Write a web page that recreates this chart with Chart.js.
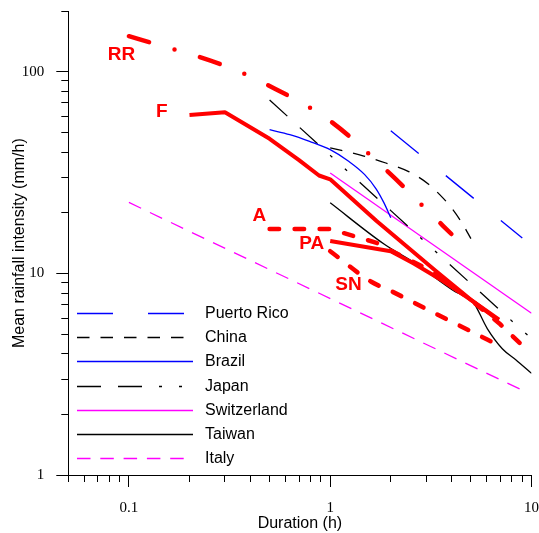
<!DOCTYPE html>
<html>
<head>
<meta charset="utf-8">
<script src="https://cdn.jsdelivr.net/npm/chart.js@4.4.1/dist/chart.umd.min.js"></script>
<style>
html,body{margin:0;padding:0;background:#fff;}
#wrap{width:539px;height:533px;}
</style>
</head>
<body>
<div id="wrap"><canvas id="c" width="539" height="533"></canvas></div>
<script>
// ---------- Axis ticks ----------
const xMajorTicks = [0.1, 1, 10];
const xMajorLabels = ['0.1', '1', '10'];
const xMinorTicks = [0.05, 0.06, 0.07, 0.08, 0.09, 0.2, 0.3, 0.4, 0.5, 0.6, 0.7, 0.8, 0.9, 2, 3, 4, 5, 6, 7, 8, 9];
const yMajorTicks = [1, 10, 100];
const yMajorLabels = ['1', '10', '100'];
const yMinorTicks = [2, 3, 4, 5, 6, 7, 8, 9, 20, 30, 40, 50, 60, 70, 80, 90, 200];

// ---------- Series (duration h, intensity mm/h) ----------
const rrDuration = [0.1, 0.3, 0.5, 1, 2, 3, 4];
const rrIntensity = [150, 107, 85, 57, 31, 20.8, 15.7];

const fDuration = [0.2, 0.3, 0.5, 0.7, 0.88, 1, 1.7, 3.35, 5, 6.9];
const fIntensity = [61, 63, 46.5, 36.5, 30.6, 29.3, 18.2, 10.3, 7.4, 5.9];

const aDuration = [0.5, 1, 1.7, 2, 3, 4, 5, 7, 9];
const aIntensity = [16.6, 16.6, 14.2, 13.0, 10.6, 8.7, 7.4, 5.6, 4.4];

const paDuration = [1, 2, 2.6, 3.5, 5, 6.8];
const paIntensity = [14.5, 12.9, 11.2, 9.4, 7.4, 5.9];

const snDuration = [1, 1.6, 2, 3.16, 4.5, 7.05];
const snIntensity = [12.9, 9.1, 8.2, 6.5, 5.45, 4.35];

const prDuration = [2, 9];
const prIntensity = [51, 15];

const chinaDuration = [1, 1.47, 1.89, 2.47, 3.07, 3.5, 4, 4.5, 5];
const chinaIntensity = [42, 38.2, 35.3, 31.9, 27.8, 24.6, 21.2, 17.9, 14.9];

const brazilDuration = [0.5, 0.63, 0.79, 1, 1.24, 1.48, 1.69, 1.85, 2];
const brazilIntensity = [51.6, 48.8, 45.2, 41.1, 35.9, 31.0, 26.3, 22.4, 18.9];

const japanDuration = [0.5, 1, 2, 5, 10];
const japanIntensity = [72.5, 38.5, 20.5, 8.9, 4.75];

const swissDuration = [1, 10];
const swissIntensity = [31.5, 6.35];

const taiwanDuration = [1, 1.85, 2.66, 4.2, 5.08, 6.04, 7.16, 8.35, 10];
const taiwanIntensity = [22.4, 14.0, 11.2, 8.1, 7.33, 5.32, 4.24, 3.74, 3.2];

const italyDuration = [0.1, 9];
const italyIntensity = [22.5, 2.64];

// ---------- Labels ----------
const legendNames = ['Puerto Rico', 'China', 'Brazil', 'Japan', 'Switzerland', 'Taiwan', 'Italy'];
const curveTags = ['RR', 'F', 'A', 'PA', 'SN'];
const curveTagAnchors = [[0.0785, 121], [0.1364, 63.3], [0.4115, 19.3], [0.702, 14.0], [1.059, 8.8]];

function pts(xs, ys) { return xs.map((x, i) => ({x: x, y: ys[i]})); }

const RED = '#ff0000', BLUE = '#0000ff', MAG = '#ff00ff', BLK = '#000000';

function ds(label, xs, ys, color, width, dash, extra) {
  return Object.assign({
    label: label,
    data: pts(xs, ys),
    borderColor: color,
    backgroundColor: color,
    borderWidth: width,
    borderDash: dash,
    pointRadius: 0,
    pointHoverRadius: 0,
    fill: false,
    tension: 0,
    borderJoinStyle: 'round'
  }, extra || {});
}

const datasets = [
  ds('RR', rrDuration, rrIntensity, RED, 4.5, [21, 26.5, 0, 26.5], {borderCapStyle: 'round', cubicInterpolationMode: 'monotone'}),
  ds('F', fDuration, fIntensity, RED, 4, [], {}),
  ds('A', aDuration, aIntensity, RED, 4.5, [9.5, 15.5], {borderCapStyle: 'round'}),
  ds('PA', paDuration, paIntensity, RED, 4, [], {}),
  ds('SN', snDuration, snIntensity, RED, 4.5, [9.5, 15.5], {borderCapStyle: 'round', cubicInterpolationMode: 'monotone'}),
  ds('Puerto Rico', prDuration, prIntensity, BLUE, 1.3, [36, 35]),
  ds('China', chinaDuration, chinaIntensity, BLK, 1.3, [12.5, 11], {cubicInterpolationMode: 'monotone'}),
  ds('Brazil', brazilDuration, brazilIntensity, BLUE, 1.3, [], {cubicInterpolationMode: 'monotone'}),
  ds('Japan', japanDuration, japanIntensity, BLK, 1.3, [24, 17, 24, 17, 3, 17, 3, 17]),
  ds('Switzerland', swissDuration, swissIntensity, MAG, 1.3, []),
  ds('Taiwan', taiwanDuration, taiwanIntensity, BLK, 1.3, [], {cubicInterpolationMode: 'monotone'}),
  ds('Italy', italyDuration, italyIntensity, MAG, 1.3, [13.5, 9.8])
];

const isMajorX = v => xMajorTicks.indexOf(v) >= 0;
const isMajorY = v => yMajorTicks.indexOf(v) >= 0;

const legendPlugin = {
  id: 'insideLegend',
  afterDraw(chart) {
    const ctx = chart.ctx;
    const L = {x0: 77, x1: 193, top: 312.7, step: 24.27, textX: 205};
    ctx.save();
    legendNames.forEach((name, i) => {
      const d = chart.data.datasets.find(s => s.label === name);
      const y = Math.round(L.top + i * L.step) + 0.5;
      ctx.strokeStyle = d.borderColor;
      ctx.lineWidth = d.borderWidth;
      ctx.lineCap = 'butt';
      ctx.setLineDash(d.borderDash || []);
      ctx.beginPath();
      ctx.moveTo(L.x0, y);
      ctx.lineTo(L.x1, y);
      ctx.stroke();
      ctx.setLineDash([]);
      ctx.fillStyle = '#000';
      ctx.font = '16px "Liberation Sans", Arial, sans-serif';
      ctx.textBaseline = 'middle';
      ctx.textAlign = 'left';
      ctx.fillText(name, L.textX, y);
    });
    ctx.restore();
  }
};

const tagPlugin = {
  id: 'curveTags',
  afterDraw(chart) {
    const ctx = chart.ctx;
    const xs = chart.scales.x, ys = chart.scales.y;
    ctx.save();
    ctx.fillStyle = RED;
    ctx.font = 'bold 19px "Liberation Sans", Arial, sans-serif';
    ctx.textBaseline = 'middle';
    ctx.textAlign = 'left';
    curveTags.forEach((t, i) => {
      const a = curveTagAnchors[i];
      ctx.fillText(t, xs.getPixelForValue(a[0]), ys.getPixelForValue(a[1]));
    });
    ctx.restore();
  }
};

new Chart(document.getElementById('c'), {
  type: 'line',
  data: {datasets: datasets},
  plugins: [legendPlugin, tagPlugin],
  options: {
    responsive: false,
    animation: false,
    events: [],
    layout: {padding: {left: 9.9, top: 11, right: 0, bottom: 0}},
    plugins: {legend: {display: false}, tooltip: {enabled: false}, title: {display: false}},
    scales: {
      x: {
        type: 'logarithmic',
        min: 0.05,
        max: 10,
        afterBuildTicks: s => { s.ticks = xMinorTicks.concat(xMajorTicks).sort((a, b) => a - b).map(v => ({value: v})); },
        ticks: {
          autoSkip: false, maxRotation: 0, minRotation: 0, padding: 0,
          color: '#000',
          font: {family: '"Liberation Serif", "Times New Roman", serif', size: 15},
          callback: v => { const i = xMajorTicks.indexOf(v); return i >= 0 ? xMajorLabels[i] : ''; }
        },
        grid: {
          display: true, drawOnChartArea: false, drawTicks: true, tickLength: 23.7,
          tickColor: '#000', tickWidth: 1,
          tickBorderDash: c => (c.tick && isMajorX(c.tick.value)) ? [11, 100] : [6, 100]
        },
        border: {display: true, color: '#000', width: 1},
        title: {
          display: true, text: 'Duration (h)', color: '#000',
          font: {family: '"Liberation Sans", Arial, sans-serif', size: 16},
          padding: {top: -3.2, bottom: 0}
        }
      },
      y: {
        type: 'logarithmic',
        min: 1,
        max: 200,
        afterBuildTicks: s => { s.ticks = yMinorTicks.concat(yMajorTicks).sort((a, b) => a - b).map(v => ({value: v})); },
        ticks: {
          autoSkip: false, padding: 0,
          color: '#000',
          font: {family: '"Liberation Serif", "Times New Roman", serif', size: 15},
          callback: v => { const i = yMajorTicks.indexOf(v); return i >= 0 ? yMajorLabels[i] : ''; }
        },
        grid: {
          display: true, drawOnChartArea: false, drawTicks: true, tickLength: 24,
          tickColor: '#000', tickWidth: 1,
          tickBorderDash: c => (c.tick && isMajorY(c.tick.value)) ? [0, 12, 12, 100] : [0, 17, 7, 100]
        },
        border: {display: true, color: '#000', width: 1},
        title: {
          display: true, text: 'Mean rainfall intensity (mm/h)', color: '#000',
          font: {family: '"Liberation Sans", Arial, sans-serif', size: 16},
          padding: {top: 0, bottom: -7.3}
        }
      }
    }
  }
});
</script>
</body>
</html>
